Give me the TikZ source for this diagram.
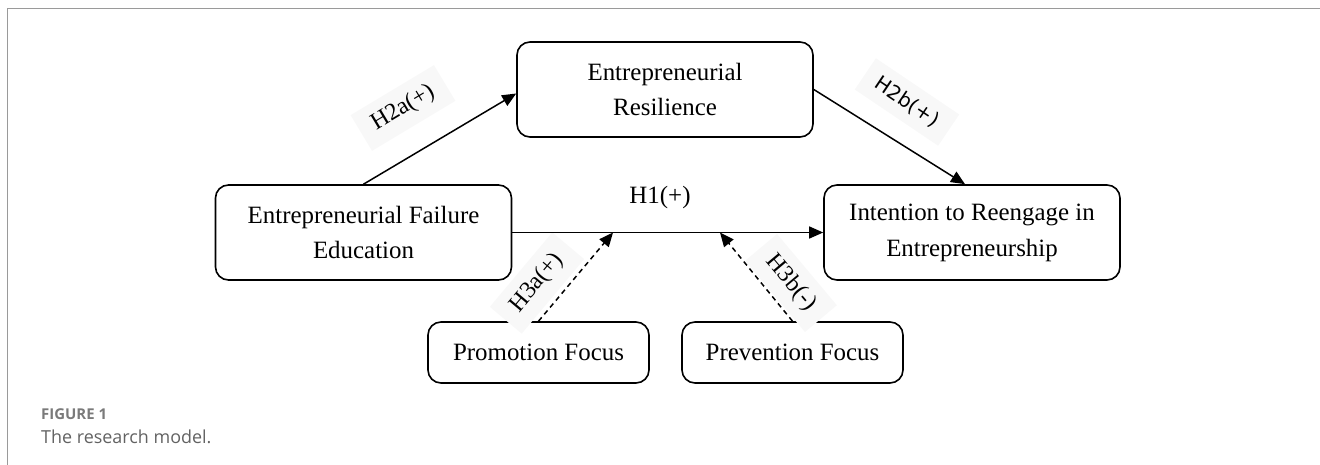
\documentclass[tikz,border=0pt]{standalone}
\usepackage{fontspec}
\setmainfont{Liberation Serif}
\newfontfamily\capfont{Open Sans}
\newfontfamily\lblsans{DejaVu Sans}
\usetikzlibrary{arrows.meta}
\definecolor{framegray}{HTML}{9A9A9A}
\definecolor{capgray}{HTML}{7A7A7A}
\definecolor{capgraydark}{HTML}{626262}
\definecolor{lblbg}{HTML}{F8F8F8}
\begin{document}
\begin{tikzpicture}[x=1bp,y=-1bp,
  box/.style={draw, line width=1.6bp, rounded corners=13bp, align=center, inner sep=0pt, font=\fontsize{25}{36}\selectfont},
  bigbox/.style={box, minimum width=296bp, minimum height=95bp},
  smallbox/.style={box, minimum width=221bp, minimum height=61bp},
  arr/.style={line width=1.5bp, -{Triangle[length=14bp,width=12bp]}},
  darr/.style={arr, dash pattern=on 5bp off 4bp},
  hlbl/.style={fill=lblbg, inner xsep=14bp, inner ysep=10bp, font=\fontsize{24}{28}\selectfont},
  caplbl/.style={anchor=base west, inner sep=0pt}]
\useasboundingbox (0,0) rectangle (1320,465);
\draw[framegray, line width=1.5bp] (7.5,465) -- (7.5,8.5) -- (1320,8.5);
% nodes
\node[bigbox] (res) at (665,89.5) {Entrepreneurial\\Resilience};
\node[bigbox] (efe) at (363.5,232.5) {Entrepreneurial Failure\\Education};
\node[bigbox] (int) at (972,232.5) {Intention to Reengage in\\Entrepreneurship};
\node[smallbox] (pro) at (538.5,352.5) {Promotion Focus};
\node[smallbox] (pre) at (792.5,352.5) {Prevention Focus};
\coordinate (m1) at (613,232.5);
\coordinate (m2) at (720,232.5);
% labels
\node[hlbl, rotate=31] (l2a) at (403,108) {H2a(+)};
\node[hlbl, rotate=-34, font=\lblsans\fontsize{20}{24}\selectfont] (l2b) at (907,102) {H2b(+)};
\node[hlbl, rotate=50] (l3a) at (537,283) {H3a(+)};
\node[hlbl, rotate=-50] (l3b) at (791,283) {H3b(-)};
\node[font=\fontsize{25}{30}\selectfont, inner sep=0pt] (l1) at (660,198) {H1(+)};
% connectors
\draw[arr] (efe.north) -- ([yshift=-4bp]res.west);
\draw[arr] (res.east) -- ([xshift=-7bp]int.north);
\draw[arr] (efe.east) -- (int.west);
\draw[darr] (pro.north) -- (m1);
\draw[darr] (pre.north) -- (m2);
% caption
\node[caplbl, font=\capfont\bfseries\fontsize{15}{18}\selectfont, text=capgray] (fig) at (41,419) {FIGURE 1};
\node[caplbl, font=\capfont\fontsize{18}{22}\selectfont, text=capgraydark] (cap) at (41,443) {The research model.};
\end{tikzpicture}
\end{document}
